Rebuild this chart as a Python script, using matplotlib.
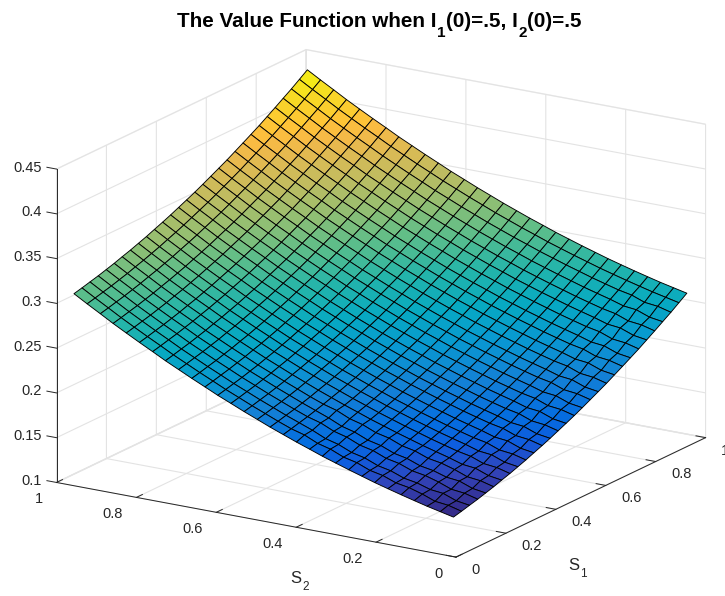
import numpy as np
import matplotlib
matplotlib.use('Agg')
import matplotlib.pyplot as plt
from matplotlib.colors import LinearSegmentedColormap
from matplotlib.transforms import offset_copy

plt.rcParams['font.family'] = ['Liberation Sans', 'DejaVu Sans']

s1_values = [0.030, 0.062, 0.094, 0.127, 0.159, 0.191, 0.223, 0.256, 0.288, 0.320,
             0.352, 0.385, 0.417, 0.449, 0.481, 0.514, 0.546, 0.578, 0.610, 0.643,
             0.675, 0.707, 0.739, 0.772, 0.804, 0.836, 0.868, 0.901, 0.933, 0.965]
s2_values = [0.025, 0.058, 0.091, 0.123, 0.156, 0.189, 0.222, 0.254, 0.287, 0.320,
             0.353, 0.385, 0.418, 0.451, 0.484, 0.516, 0.549, 0.582, 0.615, 0.647,
             0.680, 0.713, 0.746, 0.778, 0.811, 0.844, 0.877, 0.909, 0.942, 0.975]
# value * 10000, rows are S1, columns are S2
value_grid = [
    [1386,1419,1452,1488,1526,1566,1607,1651,1696,1744,1792,1844,1896,1952,2008,2067,2127,2191,2254,2321,2389,2460,2531,2606,2681,2759,2838,2920,3003,3089],
    [1408,1447,1464,1518,1562,1588,1643,1673,1732,1766,1828,1866,1932,1974,2030,2089,2149,2213,2276,2343,2411,2482,2553,2628,2703,2781,2860,2942,3025,3111],
    [1432,1455,1510,1526,1572,1598,1653,1683,1742,1776,1838,1876,1942,1998,2054,2113,2173,2237,2300,2367,2435,2506,2577,2652,2727,2805,2884,2966,3049,3135],
    [1456,1495,1512,1566,1610,1636,1691,1721,1780,1814,1876,1914,1980,2022,2078,2137,2197,2261,2324,2391,2459,2530,2601,2676,2751,2829,2908,2990,3073,3159],
    [1483,1506,1561,1577,1623,1649,1704,1734,1793,1827,1889,1927,1993,2049,2105,2164,2224,2288,2351,2418,2486,2557,2628,2703,2778,2856,2935,3017,3100,3186],
    [1510,1549,1566,1620,1664,1690,1745,1775,1834,1868,1930,1968,2034,2076,2132,2191,2251,2315,2378,2445,2513,2584,2655,2730,2805,2883,2962,3044,3127,3213],
    [1541,1564,1619,1635,1681,1721,1762,1806,1851,1899,1947,1999,2051,2107,2163,2222,2282,2346,2409,2476,2544,2615,2686,2761,2836,2914,2993,3075,3158,3244],
    [1571,1610,1627,1681,1711,1751,1792,1836,1881,1929,1977,2029,2081,2137,2193,2252,2312,2376,2439,2506,2574,2645,2716,2791,2866,2944,3023,3105,3188,3274],
    [1604,1627,1682,1698,1744,1784,1825,1869,1914,1962,2010,2062,2114,2170,2226,2285,2345,2409,2472,2539,2607,2678,2749,2824,2899,2977,3056,3138,3221,3307],
    [1637,1676,1693,1747,1777,1817,1858,1902,1947,1995,2043,2095,2147,2203,2259,2318,2378,2442,2505,2572,2640,2711,2782,2857,2932,3010,3089,3171,3254,3340],
    [1674,1697,1752,1768,1814,1854,1895,1939,1984,2032,2080,2132,2184,2240,2296,2355,2415,2479,2542,2609,2677,2748,2819,2894,2969,3047,3126,3208,3291,3377],
    [1711,1750,1767,1821,1851,1891,1932,1976,2021,2069,2117,2169,2221,2277,2333,2392,2452,2516,2579,2646,2714,2785,2856,2931,3006,3084,3163,3245,3328,3414],
    [1749,1772,1827,1843,1889,1929,1970,2014,2059,2107,2155,2207,2259,2315,2371,2430,2490,2554,2617,2684,2752,2823,2894,2969,3044,3122,3201,3283,3366,3452],
    [1790,1829,1846,1900,1930,1970,2011,2055,2100,2148,2196,2248,2300,2356,2412,2471,2531,2595,2658,2725,2793,2864,2935,3010,3085,3163,3242,3324,3407,3493],
    [1831,1854,1909,1925,1971,2011,2052,2096,2141,2189,2237,2289,2341,2397,2453,2512,2572,2636,2699,2766,2834,2905,2976,3051,3126,3204,3283,3365,3448,3534],
    [1874,1913,1930,1984,2014,2054,2095,2139,2184,2232,2280,2332,2384,2440,2496,2555,2615,2679,2742,2809,2877,2948,3019,3094,3169,3247,3326,3408,3491,3577],
    [1919,1942,1997,2013,2059,2099,2140,2184,2229,2277,2325,2377,2429,2485,2541,2600,2660,2724,2787,2854,2922,2993,3064,3139,3214,3292,3371,3453,3536,3622],
    [1966,2005,2022,2076,2106,2146,2187,2231,2276,2324,2372,2424,2476,2532,2588,2647,2707,2771,2834,2901,2969,3040,3111,3186,3261,3339,3418,3500,3583,3669],
    [2013,2036,2091,2107,2153,2193,2234,2278,2323,2371,2419,2471,2523,2579,2635,2694,2754,2818,2881,2948,3016,3087,3158,3233,3308,3386,3465,3547,3630,3716],
    [2062,2101,2118,2172,2202,2242,2283,2327,2372,2420,2468,2520,2572,2628,2684,2743,2803,2867,2930,2997,3065,3136,3207,3282,3357,3435,3514,3596,3679,3765],
    [2114,2137,2192,2208,2254,2294,2335,2379,2424,2472,2520,2572,2624,2680,2736,2795,2855,2919,2982,3049,3117,3188,3259,3334,3409,3487,3566,3648,3731,3817],
    [2166,2205,2222,2276,2306,2346,2387,2431,2476,2524,2572,2624,2676,2732,2788,2847,2907,2971,3034,3101,3169,3240,3311,3386,3461,3539,3618,3700,3783,3869],
    [2219,2242,2297,2313,2359,2399,2440,2484,2529,2577,2625,2677,2729,2785,2841,2900,2960,3024,3087,3154,3222,3293,3364,3439,3514,3592,3671,3753,3836,3922],
    [2274,2313,2330,2384,2414,2454,2495,2539,2584,2632,2680,2732,2784,2840,2896,2955,3015,3079,3142,3209,3277,3348,3419,3494,3569,3647,3726,3808,3891,3977],
    [2332,2355,2410,2426,2472,2512,2553,2597,2642,2690,2738,2790,2842,2898,2954,3013,3073,3137,3200,3267,3335,3406,3477,3552,3627,3705,3784,3866,3949,4035],
    [2390,2429,2446,2500,2530,2570,2611,2655,2700,2748,2796,2848,2900,2956,3012,3071,3131,3195,3258,3325,3393,3464,3535,3610,3685,3763,3842,3924,4007,4093],
    [2450,2473,2528,2544,2590,2630,2671,2715,2760,2808,2856,2908,2960,3016,3072,3131,3191,3255,3318,3385,3453,3524,3595,3670,3745,3823,3902,3984,4067,4153],
    [2511,2550,2567,2621,2651,2691,2732,2776,2821,2869,2917,2969,3021,3077,3133,3192,3252,3316,3379,3446,3514,3585,3656,3731,3806,3884,3963,4045,4128,4214],
    [2575,2608,2641,2677,2715,2755,2796,2840,2885,2933,2981,3033,3085,3141,3197,3256,3316,3380,3443,3510,3578,3649,3720,3795,3870,3948,4027,4109,4192,4278],
    [2639,2672,2705,2741,2779,2819,2860,2904,2949,2997,3045,3097,3149,3205,3261,3320,3380,3444,3507,3574,3642,3713,3784,3859,3934,4012,4091,4173,4256,4342],
]

x_ticks = [0, 0.2, 0.4, 0.6, 0.8, 1]
x_labels = ['0', '0.2', '0.4', '0.6', '0.8', '1']
z_ticks = [0.1, 0.15, 0.2, 0.25, 0.3, 0.35, 0.4, 0.45]
z_labels = ['0.1', '0.15', '0.2', '0.25', '0.3', '0.35', '0.4', '0.45']

# entries of the old 64 step parula table, position is (entry - 1) / 63
parula = LinearSegmentedColormap.from_list('parula', [
    (0 / 63, (0.2081, 0.1663, 0.5292)), (4 / 63, (0.1959, 0.2645, 0.7279)),
    (7 / 63, (0.0591, 0.3598, 0.8683)), (10 / 63, (0.0165, 0.4266, 0.8786)),
    (15 / 63, (0.0779, 0.5040, 0.8384)), (20 / 63, (0.0343, 0.5966, 0.8199)),
    (25 / 63, (0.0267, 0.6642, 0.7607)), (30 / 63, (0.1453, 0.7098, 0.6646)),
    (35 / 63, (0.3482, 0.7424, 0.5473)), (40 / 63, (0.5709, 0.7485, 0.4494)),
    (45 / 63, (0.7525, 0.7384, 0.3768)), (50 / 63, (0.9139, 0.7258, 0.3063)),
    (52 / 63, (0.9739, 0.7314, 0.2666)), (54 / 63, (0.9990, 0.7653, 0.2164)),
    (58 / 63, (0.9697, 0.8481, 0.1475)), (61 / 63, (0.9598, 0.9218, 0.0948)),
    (63 / 63, (0.9763, 0.9831, 0.0538))])

W, H = 725, 596
side = 721
fig = plt.figure(figsize=(W / 100, H / 100), dpi=100)
ax = fig.add_axes([10.8 / W, -77.6 / H, side / W, side / H], projection='3d', proj_type='ortho')
ax.patch.set_alpha(0)
ax.view_init(elev=17.4, azim=-148)
ax.set_box_aspect((469, 469, 327))

S2, S1 = np.meshgrid(s2_values, s1_values)
Z = np.array(value_grid) / 10000
ax.plot_surface(S1, S2, Z, rstride=1, cstride=1, cmap=parula, shade=False,
                vmin=Z.min() + 0.001, vmax=Z.max() + 0.003,
                edgecolor='black', linewidth=0.65)

ax.set_xlim(0, 1)
ax.set_ylim(0, 1)
ax.set_zlim(0.1, 0.45)
ax.set_xticks(x_ticks, x_labels, ha='left', va='center')
ax.set_yticks(x_ticks, x_labels, ha='right', va='center')
ax.set_zticks(z_ticks, z_labels, ha='right', va='center')
ax.tick_params(labelsize=10.5, colors='#262626', pad=1)

for axis in (ax.xaxis, ax.yaxis, ax.zaxis):
    axis.pane.set_facecolor('white')
    axis.pane.set_edgecolor('#e3e3e3')
    axis.line.set_color('#262626')
    axis.line.set_linewidth(0.7)
    axis._axinfo['grid']['color'] = '#e3e3e3'
    axis._axinfo['grid']['linewidth'] = 0.8
    axis._axinfo['tick']['linewidth'] = {True: 0.7, False: 0.7}
    axis._axinfo['tick']['color'] = '#262626'
    axis._axinfo['tick']['inward_factor'] = 0
    axis._axinfo['tick']['outward_factor'] = 0.3
ax.zaxis._get_tickdir = lambda pos: 1


def nudge_labels(axis, dx, dy):
    # Axis3D resets the tick transforms in get_major_ticks, so wrap it
    base = axis.get_major_ticks
    trans = offset_copy(ax.transData, fig=fig, x=dx, y=dy, units='dots')

    def get_major_ticks(numticks=None):
        ticks = base(numticks)
        for tick in ticks:
            tick.label1.set_transform(trans)
        return ticks
    axis.get_major_ticks = get_major_ticks


nudge_labels(ax.xaxis, 2, 0)
nudge_labels(ax.yaxis, -5, -2)
nudge_labels(ax.zaxis, 7, 3)


def place_pieces(pieces, x, y, size, sub_size, drop, gap, **kw):
    # writes text with subscripts piece by piece, x and y in pixels from top left
    renderer = fig.canvas.get_renderer()
    for text, is_sub in pieces:
        t = fig.text(x / W, 1 - (y + (drop if is_sub else 0)) / H, text,
                     fontsize=sub_size if is_sub else size, va='baseline', ha='left', **kw)
        x += t.get_window_extent(renderer).width + gap


place_pieces([('The Value Function when I', False), ('1', True), ('(0)=.5, I', False),
              ('2', True), ('(0)=.5', False)],
             177, 27, 14.9, 11, 10, 0.5, fontweight='bold', color='black')
place_pieces([('S', False), ('1', True)], 568, 570, 12, 8.5, 7, 1, color='#262626')
place_pieces([('S', False), ('2', True)], 290, 583, 12, 8.5, 7, 1, color='#262626')

fig.savefig('out.png', dpi=100)
